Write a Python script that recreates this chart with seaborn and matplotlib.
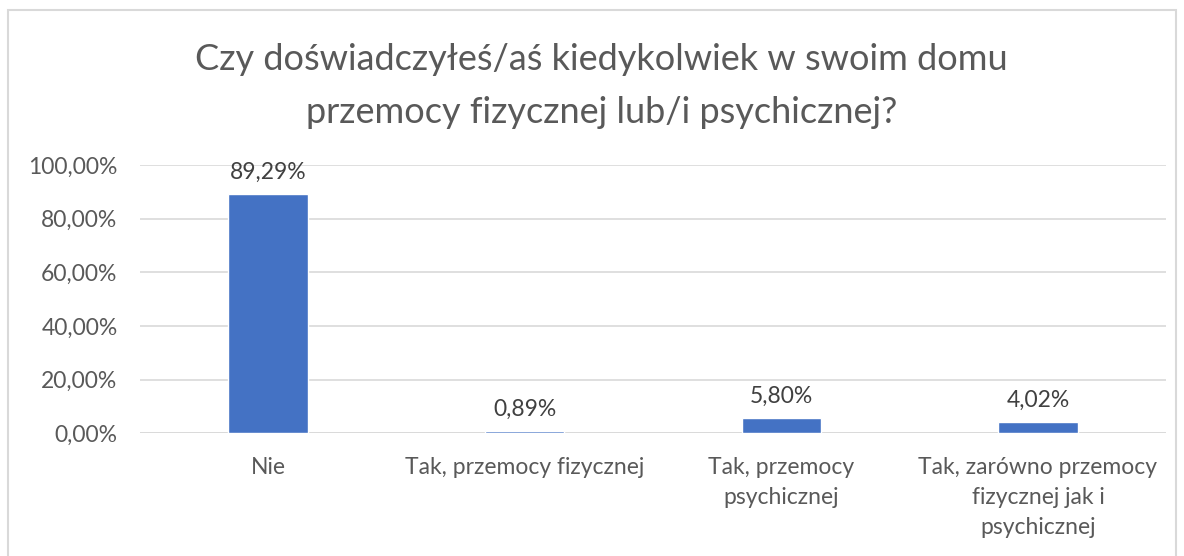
import matplotlib
matplotlib.use("Agg")
import matplotlib.pyplot as plt
import seaborn as sns
import pandas as pd
from matplotlib.patches import Rectangle

categories = ["Nie", "Tak, przemocy fizycznej", "Tak, przemocy\npsychicznej",
              "Tak, zarówno przemocy\nfizycznej jak i\npsychicznej"]
values = [0.8929, 0.0089, 0.0580, 0.0402]
value_labels = ["89,29%", "0,89%", "5,80%", "4,02%"]
yticks = [0.0, 0.2, 0.4, 0.6, 0.8, 1.0]
ytick_labels = ["0,00%", "20,00%", "40,00%", "60,00%", "80,00%", "100,00%"]
title = "Czy doświadczyłeś/aś kiedykolwiek w swoim domu\nprzemocy fizycznej lub/i psychicznej?"

sns.set_theme(style="white")
plt.rcParams['font.family'] = ['Lato', 'DejaVu Sans']

grey = "#595959"
fig = plt.figure(figsize=(11.84, 5.56), dpi=100)
ax = fig.add_axes([0.118, 0.221, 0.867, 0.482])

df = pd.DataFrame({"cat": categories, "val": values})
sns.barplot(data=df, x="cat", y="val", color="#4472C4", width=0.31, ax=ax,
            saturation=1, zorder=3)

ax.set_ylim(0, 1.0)
ax.set_yticks(yticks)
ax.set_yticklabels(ytick_labels, color=grey, fontsize=16.5)
ax.set_xticklabels(categories, color=grey, fontsize=16.5, linespacing=1.55)
ax.tick_params(axis="x", length=0, pad=17)
ax.tick_params(axis="y", length=0, pad=16)
ax.set_xlabel("")
ax.set_ylabel("")
ax.grid(axis="y", color="#D9D9D9", linewidth=1.2, zorder=0)
for s in ax.spines.values():
    s.set_visible(False)
ax.axhline(0, color="#D9D9D9", linewidth=1.2, zorder=1)

for i, (v, lab) in enumerate(zip(values, value_labels)):
    ax.annotate(lab, (i, v), xytext=(0, 8), textcoords="offset points",
                ha="center", va="bottom", color="#404040", fontsize=16.5)

fig.text(0.508, 1 - 86/556, title, ha="center", va="center", fontsize=26,
         color=grey, linespacing=1.75)

fig.patches.append(Rectangle((8/1184, -0.05), 1168/1184, 1 - 10/556 + 0.05,
                             transform=fig.transFigure, fill=False,
                             edgecolor="#D9D9D9", linewidth=1.5))

fig.savefig("out.png", dpi=100, facecolor="white")
